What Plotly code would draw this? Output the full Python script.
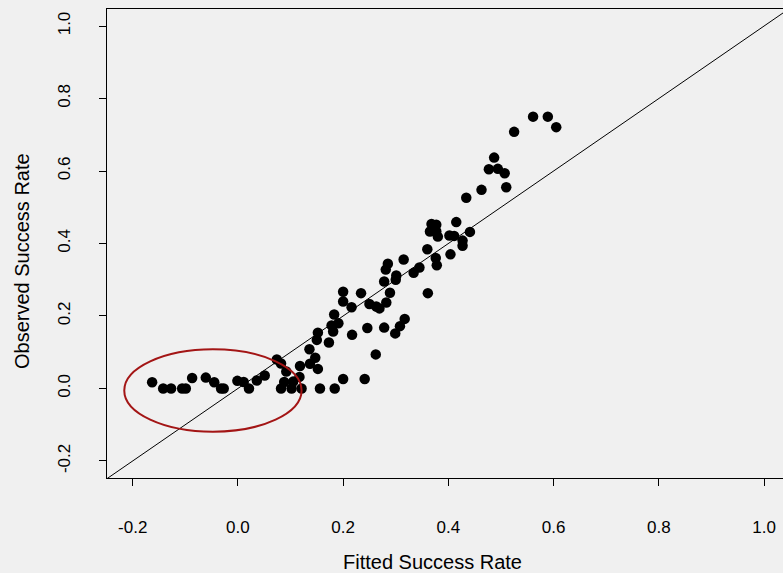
import plotly.graph_objects as go

# Fitted vs observed success rates
fitted = [
    -0.163, -0.142, -0.127, -0.106, -0.099, -0.087, -0.061, -0.045, -0.032, -0.027,
    -0.001, 0.011, 0.021, 0.036, 0.051, 0.074, 0.082, 0.092, 0.082, 0.088,
    0.102, 0.105, 0.117, 0.121, 0.118, 0.136, 0.137, 0.147, 0.152, 0.156,
    0.150, 0.152, 0.173, 0.184, 0.200, 0.217, 0.183, 0.178, 0.191, 0.181,
    0.200, 0.200, 0.216, 0.234, 0.246, 0.241, 0.262, 0.250, 0.263, 0.269,
    0.282, 0.289, 0.278, 0.281, 0.285, 0.300, 0.301, 0.315, 0.278, 0.299,
    0.308, 0.317, 0.334, 0.345, 0.361, 0.360, 0.376, 0.378, 0.404, 0.368,
    0.377, 0.365, 0.377, 0.380, 0.402, 0.411, 0.415, 0.427, 0.427, 0.441,
    0.434, 0.463, 0.487, 0.477, 0.494, 0.507, 0.510, 0.525, 0.561, 0.589,
    0.605,
]
observed = [
    0.017, 0.000, 0.000, 0.000, 0.000, 0.029, 0.030, 0.017, 0.000, 0.000,
    0.021, 0.018, 0.000, 0.022, 0.036, 0.080, 0.069, 0.047, 0.000, 0.018,
    0.000, 0.019, 0.032, 0.000, 0.062, 0.108, 0.068, 0.085, 0.054, 0.000,
    0.134, 0.154, 0.127, 0.000, 0.026, 0.148, 0.204, 0.174, 0.180, 0.157,
    0.267, 0.240, 0.224, 0.263, 0.167, 0.026, 0.094, 0.233, 0.226, 0.221,
    0.237, 0.264, 0.295, 0.328, 0.344, 0.300, 0.312, 0.356, 0.168, 0.152,
    0.172, 0.192, 0.319, 0.334, 0.263, 0.384, 0.360, 0.340, 0.370, 0.454,
    0.452, 0.433, 0.434, 0.419, 0.422, 0.421, 0.459, 0.408, 0.394, 0.432,
    0.526, 0.548, 0.637, 0.605, 0.606, 0.594, 0.555, 0.708, 0.750, 0.750,
    0.721,
]

tick_vals = [-0.2, 0.0, 0.2, 0.4, 0.6, 0.8, 1.0]
tick_text = ["-0.2", "0.0", "0.2", "0.4", "0.6", "0.8", "1.0"]

# highlighted region around the near-zero fitted values
ell_cx, ell_cy = -0.0475, -0.0055
ell_rx, ell_ry = 0.1685, 0.1137

x_range = [-0.2488, 1.036]
y_range = [-0.247, 1.047]

BG = "#f0f0f0"
FONT = "Liberation Sans, Arial, sans-serif"

fig = go.Figure()

# reference line y = x
fig.add_trace(go.Scatter(
    x=[-0.5, 1.5], y=[-0.5, 1.5], mode="lines",
    line=dict(color="black", width=1), hoverinfo="skip", showlegend=False,
))

fig.add_trace(go.Scatter(
    x=fitted, y=observed, mode="markers",
    marker=dict(color="black", size=10.5, line=dict(width=0)),
    showlegend=False,
))

fig.add_shape(
    type="circle", xref="x", yref="y",
    x0=ell_cx - ell_rx, x1=ell_cx + ell_rx,
    y0=ell_cy - ell_ry, y1=ell_cy + ell_ry,
    line=dict(color="#a31515", width=2),
)

axis_common = dict(
    showgrid=False, zeroline=False,
    showline=True, linecolor="black", linewidth=1, mirror=True,
    ticks="outside", ticklen=7, tickcolor="black", tickwidth=1,
    tickvals=tick_vals, ticktext=tick_text,
    tickfont=dict(family=FONT, size=17, color="black"),
)

fig.update_xaxes(range=x_range, ticklabelstandoff=27, **axis_common)
fig.update_yaxes(range=y_range, tickangle=-90, ticklabelstandoff=22, **axis_common)

fig.add_annotation(
    text="Fitted Success Rate", xref="paper", yref="paper",
    x=0.482, y=-0.179, xanchor="center", yanchor="middle",
    showarrow=False, font=dict(family=FONT, size=20, color="black"),
)
fig.add_annotation(
    text="Observed Success Rate", xref="paper", yref="paper",
    x=-0.1257, y=0.4627, xanchor="center", yanchor="middle", textangle=-90,
    showarrow=False, font=dict(family=FONT, size=20, color="black"),
)

fig.update_layout(
    width=783, height=573,
    margin=dict(l=107, r=0, t=9, b=95),
    paper_bgcolor=BG, plot_bgcolor=BG,
    font=dict(family=FONT),
)

fig.write_html("out.html")
